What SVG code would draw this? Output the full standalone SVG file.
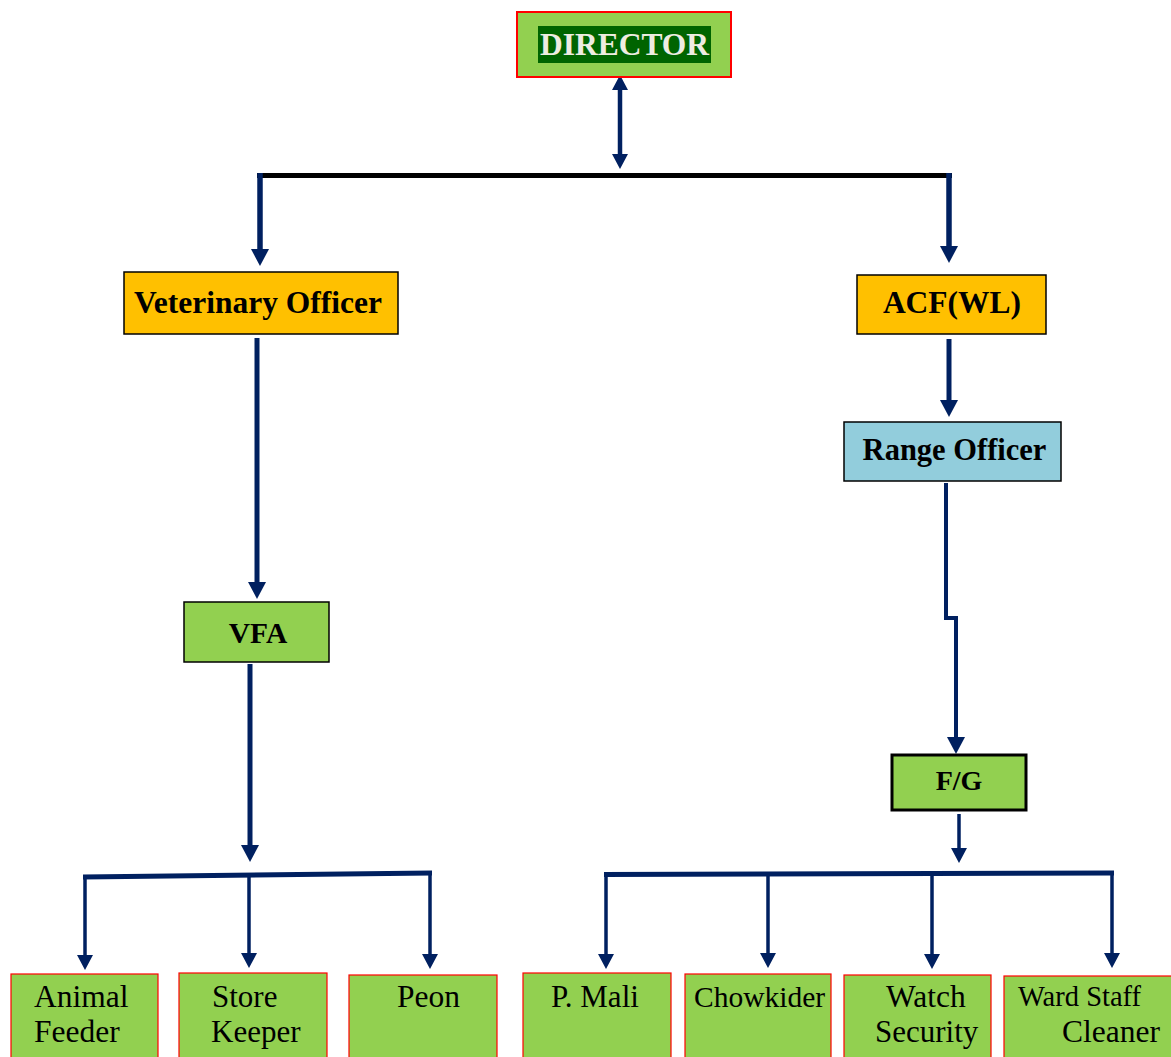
<svg xmlns="http://www.w3.org/2000/svg" width="1171" height="1057" viewBox="0 0 1171 1057">
<style>
.bg{fill:#ffffff}
.title{font-family:"Liberation Serif","Times New Roman",serif;font-weight:bold;fill:#000;text-anchor:middle}
.staff{font-family:"Liberation Serif","Times New Roman",serif;fill:#000}
.orange{fill:#FFC000;stroke:#000;stroke-width:1.5}
.blue{fill:#92CDDC;stroke:#000;stroke-width:1.5}
.gbox{fill:#92D050;stroke:#000;stroke-width:1.5}
.rbox{fill:#92D050;stroke:#FF0000;stroke-width:1.2}
.conn{fill:none;stroke:#002060;stroke-linejoin:miter}
</style>
<defs>
<marker id="ah" viewBox="0 0 17 18" refX="1" refY="9" markerUnits="userSpaceOnUse" markerWidth="17" markerHeight="18" orient="auto-start-reverse">
<path d="M0,0 L17,9 L0,18 Z" fill="#002060"/>
</marker>
<marker id="as" viewBox="0 0 15 16" refX="1" refY="8" markerUnits="userSpaceOnUse" markerWidth="15" markerHeight="16" orient="auto-start-reverse">
<path d="M0,0 L15,8 L0,16 Z" fill="#002060"/>
</marker>
</defs>
<rect class="bg" x="0" y="0" width="1171" height="1057"/>

<g id="connectors">
<line class="conn" x1="620" y1="89" x2="620" y2="155" stroke-width="4.5" marker-start="url(#as)" marker-end="url(#as)"/>
<line x1="257" y1="175.5" x2="952" y2="175.5" stroke="#000" stroke-width="5"/>
<line class="conn" x1="260" y1="173" x2="260" y2="250" stroke-width="5.5" marker-end="url(#ah)"/>
<line class="conn" x1="949" y1="173" x2="949" y2="247" stroke-width="5.5" marker-end="url(#ah)"/>
<line class="conn" x1="257" y1="338" x2="257" y2="583" stroke-width="5" marker-end="url(#ah)"/>
<line class="conn" x1="250" y1="664" x2="250" y2="846" stroke-width="5" marker-end="url(#ah)"/>
<polyline class="conn" points="83,877 432,873" stroke-width="5"/>
<line class="conn" x1="85" y1="877" x2="85" y2="956" stroke-width="3.5" marker-end="url(#as)"/>
<line class="conn" x1="249" y1="875" x2="249" y2="954" stroke-width="3.5" marker-end="url(#as)"/>
<line class="conn" x1="430" y1="873" x2="430" y2="955" stroke-width="3.5" marker-end="url(#as)"/>
<line class="conn" x1="949" y1="339" x2="949" y2="401" stroke-width="5" marker-end="url(#ah)"/>
<polyline class="conn" points="946,483 946,618 956,618 956,738" stroke-width="4" marker-end="url(#ah)"/>
<line class="conn" x1="959" y1="814" x2="959" y2="849" stroke-width="3.5" marker-end="url(#as)"/>
<polyline class="conn" points="604,874.5 1114,873" stroke-width="5"/>
<line class="conn" x1="606" y1="874" x2="606" y2="955" stroke-width="3.5" marker-end="url(#as)"/>
<line class="conn" x1="768" y1="874" x2="768" y2="954" stroke-width="3.5" marker-end="url(#as)"/>
<line class="conn" x1="932" y1="874" x2="932" y2="955" stroke-width="3.5" marker-end="url(#as)"/>
<line class="conn" x1="1112" y1="873" x2="1112" y2="954" stroke-width="3.5" marker-end="url(#as)"/>
</g>

<g id="director">
<rect x="517" y="12" width="214" height="65" fill="#92D050" stroke="#FF0000" stroke-width="2"/>
<rect x="538" y="26" width="173" height="37" fill="#006400"/>
<text class="title" x="624.5" y="55" font-size="31.5" style="fill:#EEECE1">DIRECTOR</text>
</g>

<g id="veterinary-officer">
<rect class="orange" x="124" y="272" width="274" height="62"/>
<text class="title" x="258" y="313" font-size="31.5">Veterinary Officer</text>
</g>

<g id="acf-wl">
<rect class="orange" x="857" y="275" width="189" height="59"/>
<text class="title" x="952" y="313" font-size="31.5">ACF(WL)</text>
</g>

<g id="range-officer">
<rect class="blue" x="844" y="422" width="217" height="59"/>
<text class="title" x="954.5" y="460" font-size="30.5">Range Officer</text>
</g>

<g id="vfa">
<rect class="gbox" x="184" y="602" width="145" height="60"/>
<text class="title" x="258" y="643" font-size="29.5">VFA</text>
</g>

<g id="fg">
<rect x="892" y="755" width="134" height="55" fill="#92D050" stroke="#000" stroke-width="3"/>
<text class="title" x="959" y="790" font-size="28">F/G</text>
</g>

<g id="animal-feeder">
<rect class="rbox" x="11" y="974" width="147" height="95"/>
<text class="staff" x="34" y="1007" font-size="31.5">Animal</text>
<text class="staff" x="34" y="1042" font-size="31.5">Feeder</text>
</g>

<g id="store-keeper">
<rect class="rbox" x="179" y="973" width="148" height="95"/>
<text class="staff" x="212" y="1007" font-size="31">Store</text>
<text class="staff" x="211" y="1042" font-size="31">Keeper</text>
</g>

<g id="peon">
<rect class="rbox" x="349" y="975" width="148" height="95"/>
<text class="staff" x="397" y="1007" font-size="31.5">Peon</text>
</g>

<g id="p-mali">
<rect class="rbox" x="523" y="973" width="148" height="95"/>
<text class="staff" x="551" y="1007" font-size="31">P. Mali</text>
</g>

<g id="chowkider">
<rect class="rbox" x="685" y="974" width="146" height="95"/>
<text class="staff" x="694" y="1007" font-size="29.5">Chowkider</text>
</g>

<g id="watch-security">
<rect class="rbox" x="844" y="975" width="147" height="95"/>
<text class="staff" x="886" y="1007" font-size="31.5">Watch</text>
<text class="staff" x="875" y="1042" font-size="31">Security</text>
</g>

<g id="ward-staff-cleaner">
<rect class="rbox" x="1004" y="976" width="180" height="95"/>
<text class="staff" x="1018" y="1006" font-size="28.5">Ward Staff</text>
<text class="staff" x="1062" y="1042" font-size="31.5">Cleaner</text>
</g>
</svg>
